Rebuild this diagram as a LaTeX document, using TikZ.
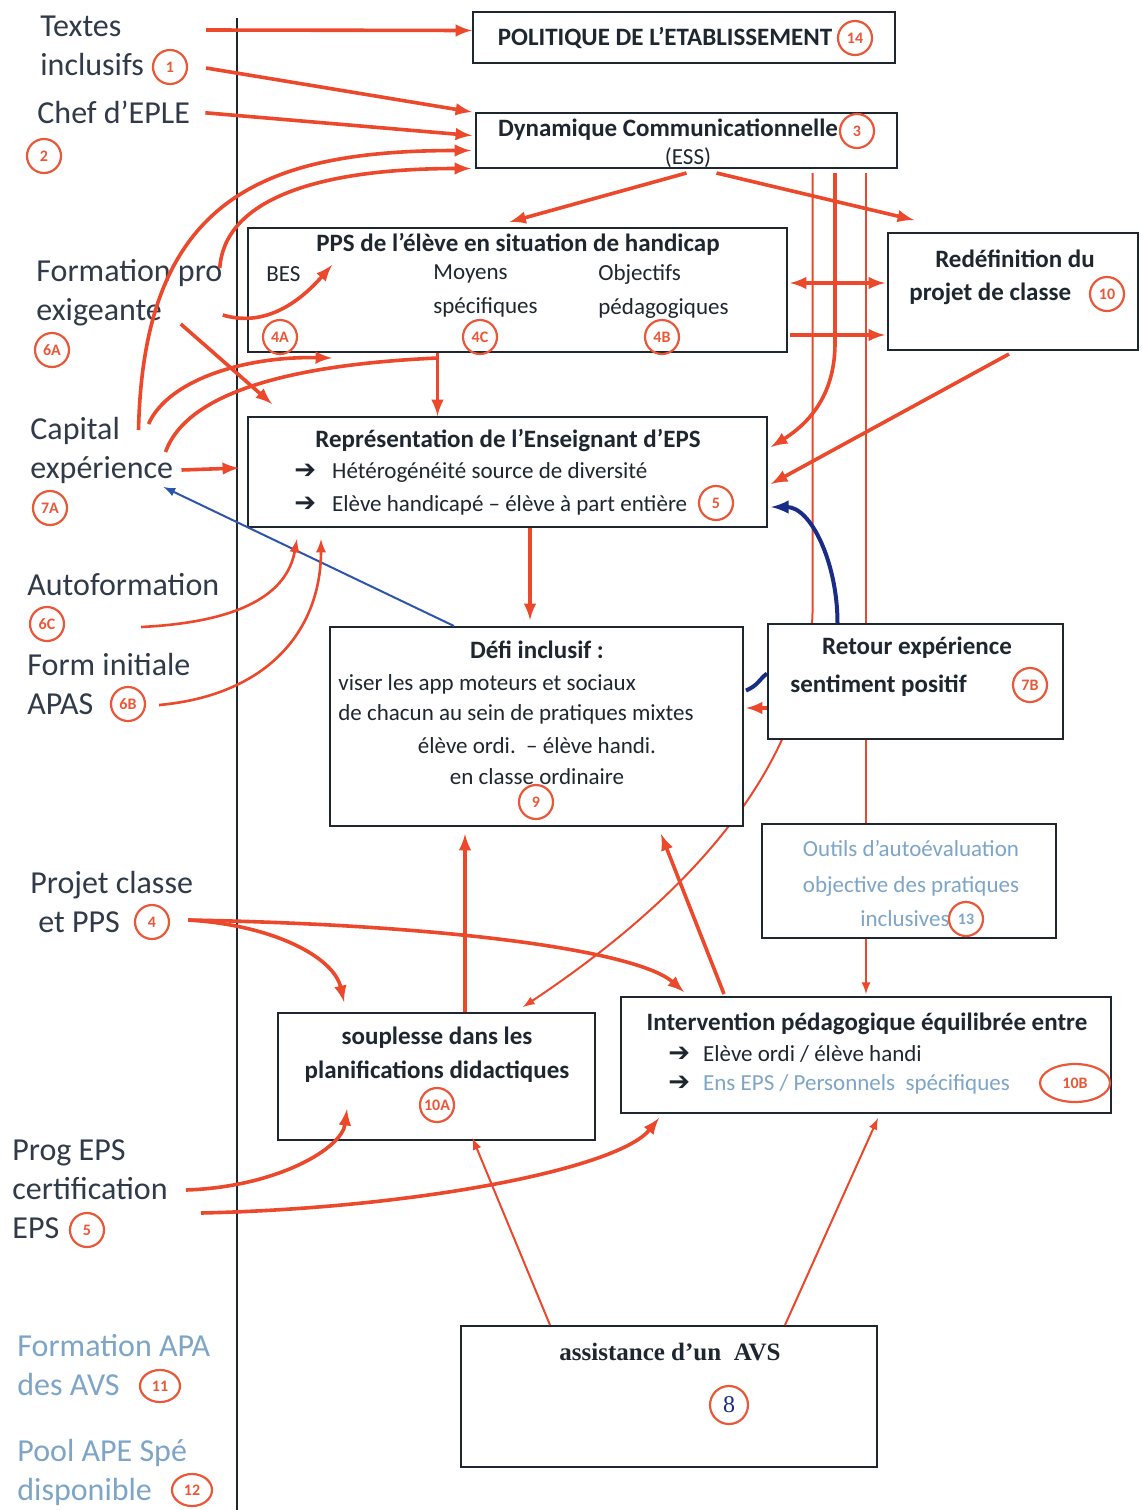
\documentclass[tikz,border=0pt]{standalone}
\usepackage{fontspec}
\setmainfont{Carlito}
\newfontfamily\arrowfont{DejaVu Sans}
\newfontfamily\avsfont{Liberation Serif}
\usetikzlibrary{shapes, arrows, positioning, calc, backgrounds}

\definecolor{arrred}{RGB}{236,72,44}
\definecolor{numred}{RGB}{234,88,58}
\definecolor{boxline}{RGB}{30,38,48}
\definecolor{labgray}{RGB}{48,58,72}
\definecolor{paleblue}{RGB}{125,165,200}
\definecolor{linkblue}{RGB}{45,85,170}
\definecolor{darkblue}{RGB}{25,45,135}

\begin{document}
\begin{tikzpicture}[
    x=0.5pt, y=-0.5pt,
    box/.style={rectangle, draw=boxline, line width=1pt, fill=white, inner sep=0pt},
    num/.style={circle, draw=numred, line width=1.1pt, text=numred, inner sep=0pt, minimum size=17pt, font=\fontsize{8}{8}\selectfont\bfseries},
    lbl/.style={anchor=north west, align=left, inner sep=0pt, text=labgray, font=\fontsize{16}{19.5}\selectfont},
    txt/.style={inner sep=0pt, text=boxline, font=\fontsize{11.5}{14}\selectfont},
    ttl/.style={inner sep=0pt, text=boxline, font=\fontsize{12.5}{15}\selectfont\bfseries},
    line/.style={draw=arrred, line width=1.8pt, -latex},
    thinline/.style={draw=arrred, line width=1pt, -latex},
    blueline/.style={draw=linkblue, line width=1pt, -latex}
]
\useasboundingbox (0,0) rectangle (1141,1510);

% Boxes
\node[box, minimum width=211pt, minimum height=25.5pt] (pol) at (684,37.5) {};
\node[box, minimum width=210.5pt, minimum height=27.5pt] (dyn) at (686.5,140.5) {};
\node[box, minimum width=269.5pt, minimum height=62pt] (pps) at (517.5,290) {};
\node[box, minimum width=125pt, minimum height=58.5pt] (redef) at (1013,291.5) {};
\node[box, minimum width=259.5pt, minimum height=55pt] (repr) at (507.5,472) {};
\node[box, minimum width=206.5pt, minimum height=99.5pt] (defi) at (536.5,726.5) {};
\node[box, minimum width=147.5pt, minimum height=57.5pt] (retour) at (915.5,681.5) {};
\node[box, minimum width=147pt, minimum height=57pt] (outils) at (909,881) {};
\node[box, minimum width=158.5pt, minimum height=63.5pt] (soup) at (436.5,1076.5) {};
\node[box, minimum width=245pt, minimum height=58pt] (interv) at (866,1055) {};
\node[box, minimum width=208pt, minimum height=70.5pt] (avs) at (669,1396.5) {};

% Box texts
\node[ttl] (polT) at (665,38) {POLITIQUE DE L’ETABLISSEMENT};
\node[num] (n14) at (855,38) {14};
\node[ttl] (dynT) at (668,130) {Dynamique Communicationnelle};
\node[txt] (dynE) at (688,158) {(ESS)};
\node[num] (n3) at (857,131) {3};

\node[ttl] (ppsT) at (518,244) {PPS de l’élève en situation de handicap};
\node[txt, anchor=west] (bes) at (266,274) {BES};
\node[txt, anchor=west, align=left] (moyens) at (433,291) {Moyens\\[3pt]spécifiques};
\node[txt, anchor=west, align=left] (objectifs) at (598,291) {Objectifs\\[3pt]pédagogiques};
\node[num] (n4A) at (280,337) {4A};
\node[num] (n4C) at (480,337) {4C};
\node[num] (n4B) at (662,337) {4B};

\node[ttl] (redefT) at (1015,259) {Redéfinition du};
\node[ttl, anchor=west] (redefP) at (909,294) {projet de classe};
\node[num] (n10) at (1107,294) {10};

\node[ttl] (reprT) at (508,441) {Représentation de l’Enseignant d’EPS};
\node[txt, anchor=west] (reprA) at (294,472) {{\arrowfont\fontsize{13}{14}\selectfont ➔}\hspace{8pt}Hétérogénéité source de diversité};
\node[txt, anchor=west] (reprB) at (294,505) {{\arrowfont\fontsize{13}{14}\selectfont ➔}\hspace{8pt}Elève handicapé – élève à part entière};
\node[num] (n5b) at (716,503) {5};

\node[ttl] (defiT) at (537,650) {Défi inclusif :};
\node[txt, anchor=west] (defiA) at (338,684) {viser les app moteurs et sociaux};
\node[txt, anchor=west] (defiB) at (338,714) {de chacun au sein de pratiques mixtes};
\node[txt] (defiC) at (537,746) {élève ordi.\ \ – élève handi.};
\node[txt] (defiD) at (537,777) {en classe ordinaire};
\node[num] (n9) at (536,802) {9};

\node[ttl] (retourT) at (917,648) {Retour expérience};
\node[ttl, anchor=west] (retourS) at (790,686) {sentiment positif};
\node[num] (n7B) at (1030,685) {7B};

\node[txt, text=paleblue, align=center] (outilsT) at (911,868) {Outils d’autoévaluation\\[4pt]objective des pratiques};
\node[txt, text=paleblue, anchor=east] (outilsI) at (950,919) {inclusives};
\node[num, text=paleblue] (n13) at (966,919) {13};

\node[ttl, align=center] (soupT) at (437,1055) {souplesse dans les\\[2pt]planifications didactiques};
\node[num] (n10A) at (437,1105) {10A};

\node[ttl] (intervT) at (867,1024) {Intervention pédagogique équilibrée entre};
\node[txt, anchor=west] (intervA) at (668,1054) {{\arrowfont\fontsize{13}{14}\selectfont ➔}\hspace{6.5pt}Elève ordi / élève handi};
\node[txt, anchor=west] (intervB) at (668,1084) {{\arrowfont\fontsize{13}{14}\selectfont ➔}\hspace{6.5pt}\textcolor{paleblue}{Ens EPS / Personnels\ \ spécifiques}};
\node[num, ellipse, minimum width=35pt, minimum height=19pt] (n10B) at (1075,1083) {10B};

\node[ttl, font=\avsfont\fontsize{12.5}{15}\selectfont\bfseries] (avsT) at (670,1352) {assistance d’un\ \ AVS};
\node[num, text=darkblue, minimum size=19pt, font=\avsfont\fontsize{12}{12}\selectfont] (n8) at (729,1405) {8};

% Left labels
\node[lbl] (textes) at (40,16) {Textes\\inclusifs};
\node[num] (n1) at (170,67) {1};
\node[lbl] (chef) at (37,101) {Chef d’EPLE};
\node[num] (n2) at (44,156) {2};
\node[lbl] (formation) at (36,259) {Formation pro\\exigeante};
\node[num] (n6A) at (52,350) {6A};
\node[lbl] (capital) at (30,417) {Capital\\expérience};
\node[num] (n7A) at (50,508) {7A};
\node[lbl] (autof) at (27,573) {Autoformation};
\node[num] (n6C) at (47,624) {6C};
\node[lbl] (forminit) at (27,653) {Form initiale\\APAS};
\node[num] (n6B) at (128,704) {6B};
\node[lbl] (projet) at (30,871) {Projet classe\\\hspace*{4pt}et PPS};
\node[num] (n4) at (152,922) {4};
\node[lbl] (prog) at (12,1139) {Prog EPS\\certification\\EPS};
\node[num] (n5) at (87,1230) {5};
\node[lbl, text=paleblue] (formapa) at (17,1334) {Formation APA\\des AVS};
\node[num, ellipse, minimum width=20pt, minimum height=16pt] (n11) at (160,1386) {11};
\node[lbl, text=paleblue] (pool) at (17,1439) {Pool APE Spé\\disponible};
\node[num, ellipse, minimum width=20pt, minimum height=16pt] (n12) at (192,1490) {12};

% Separator
\draw[boxline, line width=1pt] (237,18) -- (237,1510);

% Lines passing behind the boxes
\begin{scope}[on background layer]
\fill[white] (0,0) rectangle (1141,1510);
\draw[thinline] ($(dyn.south)+(126,4)$) -- ++(0,440) .. controls +(-5,180) and +(120,-80) .. ($(soup.north east)+(-73,-5)$);
\draw[thinline] ($(dyn.south)+(179.5,4)$) -- ($(interv.north)+(0,-2)$);
\draw[draw=darkblue, line width=2pt] ($(defi.east)+(2,-36)$) .. controls +(12,-5) and +(-8,6) .. ($(retour.west)+(0,-8)$);
\end{scope}

% Connections
\draw[line] ($(n1.east)+(18,-37)$) -- ($(pol.west)+(0,-7)$);
\draw[line] ($(n1.east)+(18,1)$) -- ($(dyn.north west)+(-3,0)$);
\draw[line] ($(chef.east)+(15,0)$) -- ($(dyn.west)+(-3,-5)$);
\draw[line] ($(capital.north east)+(-35,13)$) .. controls +(5,-230) and +(-210,0) .. ($(dyn.west)+(-4,10)$);
\draw[line] ($(formation.north east)+(-3,9)$) .. controls +(5,-70) and +(-150,0) .. ($(dyn.west)+(-4,28)$);
\draw[line] ($(formation.north east)+(0,56)$) .. controls +(40,12) and +(-35,40) .. ($(pps.north west)+(85,38)$);
\draw[line] ($(formation.north east)+(-42,65)$) -- ($(repr.north west)+(25,-12)$);
\draw[line] ($(capital.north east)+(-25,7)$) .. controls +(20,-45) and +(-85,-2) .. ($(pps.south west)+(85,5)$);
\draw[arrred, line width=1.8pt] ($(capital.north east)+(-8,35)$) .. controls +(25,-70) and +(-110,5) .. ($(pps.south)+(-80,5)$);
\draw[line] ($(pps.south)+(-80,0)$) -- ($(repr.north)+(-70,0)$);
\draw[line] ($(capital.north east)+(8,53)$) -- ($(repr.west)+(-8,-4)$);
\draw[blueline] ($(defi.north west)+(125,0)$) -- ($(capital.north east)+(-10,70)$);
\draw[line, line width=1.3pt] ($(n6C.east)+(76,3)$) .. controls +(100,-5) and +(-10,55) .. ($(repr.south west)+(50,11)$);
\draw[line, line width=1.3pt] ($(n6B.east)+(13,1)$) .. controls +(110,-10) and +(0,90) .. ($(repr.south west)+(74,11)$);
\draw[line] ($(repr.south)+(22.5,0)$) -- ($(defi.north)+(-6.5,-6)$);
\draw[line] ($(dyn.south)+(0,4)$) -- ($(pps.north)+(-8,-5)$);
\draw[line] ($(dyn.south)+(30,4)$) -- ($(redef.north west)+(27,-12)$);
\draw[line, latex-latex] ($(pps.east)+(2,-7)$) -- ($(redef.west)+(-2,-8.5)$);
\draw[line] ($(pps.east)+(2,45)$) -- ($(redef.west)+(-2,43.5)$);
\draw[line] ($(redef.south)+(-4,3)$) -- ($(repr.east)+(3,12)$);
\draw[line] ($(dyn.south)+(148.5,4)$) -- ++(0,170) .. controls +(0,50) and +(40,-25) .. ($(repr.east)+(3,-25)$);
\draw[draw=darkblue, line width=2pt, -latex] ($(retour.north)+(-78,0)$) .. controls +(0,-60) and +(40,0) .. ($(repr.east)+(3,35)$);
\draw[line] ($(retour.west)+(0,26.5)$) -- ($(defi.east)+(2,-18.5)$);
\draw[line] ($(n4.east)+(18,-2)$) .. controls +(85,5) and +(-10,-45) .. ($(soup.north west)+(67,-10)$);
\draw[line] ($(n4.east)+(18,-2)$) .. controls +(270,5) and +(-45,-40) .. ($(interv.north west)+(64,-4)$);
\draw[line] ($(soup.north)+(28.5,0)$) -- ($(defi.south)+(-71.5,7)$);
\draw[line] ($(interv.north west)+(104,-2)$) -- ($(defi.south east)+(-83,7)$);
\draw[line] ($(prog.north east)+(18,51)$) .. controls +(90,-3) and +(-5,40) .. ($(soup.south west)+(70,-32)$);
\draw[line] ($(prog.north east)+(33,74)$) .. controls +(220,-5) and +(-40,50) .. ($(interv.south west)+(39,4)$);
\draw[thinline] ($(avs.north)+(-119,0)$) -- ($(soup.south)+(36,-3)$);
\draw[thinline] ($(avs.north)+(116,0)$) -- ($(interv.south)+(12,4)$);

\end{tikzpicture}
\end{document}
